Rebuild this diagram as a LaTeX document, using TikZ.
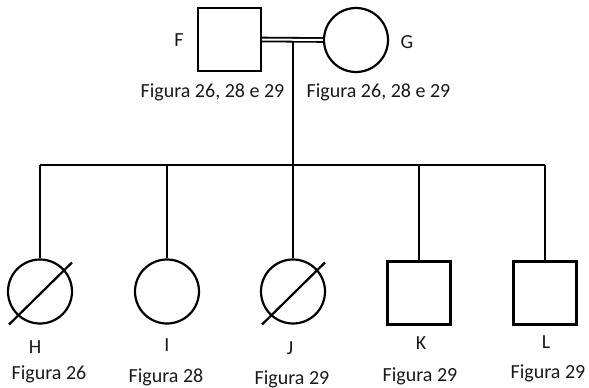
\documentclass[tikz,border=0pt]{standalone}
\usepackage{fontspec}
\setmainfont{Carlito}
\begin{document}
\begin{tikzpicture}[x=1pt,y=-1pt,
  line width=2.2pt,
  male/.style={draw, rectangle, minimum size=63pt, inner sep=0pt},
  female/.style={draw, circle, minimum size=64pt, inner sep=0pt},
  lbl/.style={font=\fontsize{20}{24}\selectfont, text=black!90, inner sep=0pt},
  marriage/.style={double, line width=1.8pt, double distance=2pt}]
\useasboundingbox (0,0) rectangle (589,388);

% parents
\node[male]   (F) at (229.5,39.5) {};
\node[female] (G) at (356,40) {};
\node[lbl] at (179,40) {F};
\node[lbl] at (407,42) {G};
\node[lbl] at (212.5,92) {Figura 26, 28 e 29};
\node[lbl] at (378.5,92) {Figura 26, 28 e 29};

% marriage line and descent
\draw[marriage] (F.east) -- (G.west);
\coordinate (m) at (293,42);
\coordinate (s) at (293,165);
\draw (m) -- (s);

% children
\node[female] (H) at (40,291.5) {};
\node[female] (I) at (167,291.5) {};
\node[female] (J) at (293,291.5) {};
\node[male]   (K) at (419,293) {};
\node[male]   (L) at (545,293) {};

% deceased marks
\draw (H.center) ++(-31,33) -- ++(63,-62);
\draw (J.center) ++(-31,33) -- ++(63,-62);

% sibship line
\coordinate (sl) at (40,165);
\coordinate (sr) at (545,165);
\draw (sl) -- (sr);
\foreach \c in {H,I,J,K,L}
  \draw (\c.north) -- (\c.north |- sl);

% child labels
\node[lbl] at (35,347) {H};
\node[lbl] at (167,345) {I};
\node[lbl] at (290,348) {J};
\node[lbl] at (421,343) {K};
\node[lbl] at (546,342) {L};
\node[lbl] at (49,374) {Figura 26};
\node[lbl] at (166,377) {Figura 28};
\node[lbl] at (292,379) {Figura 29};
\node[lbl] at (420,376) {Figura 29};
\node[lbl] at (548,373) {Figura 29};
\end{tikzpicture}
\end{document}
